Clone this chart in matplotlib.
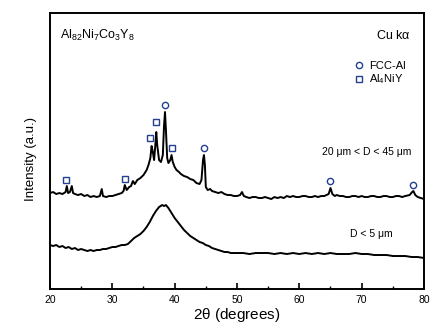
import numpy as np
import matplotlib.pyplot as plt
from matplotlib.lines import Line2D

plt.rcParams['font.family'] = ['Liberation Sans', 'DejaVu Sans']
plt.rcParams['mathtext.fontset'] = 'custom'
plt.rcParams['mathtext.rm'] = 'Liberation Sans'
plt.rcParams['mathtext.it'] = 'Liberation Sans'

# trace for 20 um < D < 45 um powder (2theta, intensity in a.u.)
theta_coarse = [20.0, 20.5, 21.0, 21.5, 22.0, 22.5, 22.7, 22.9, 23.2, 23.5, 23.7, 24.0, 24.5,
                25.0, 25.5, 26.0, 26.5, 27.0, 27.5, 28.0, 28.3, 28.5, 29.0, 29.5, 30.0,
                30.5, 31.0, 31.5, 31.8, 32.0, 32.3, 32.7, 33.0, 33.3, 33.6, 34.0, 34.5,
                35.0, 35.5, 35.8, 36.1, 36.3, 36.5, 36.7, 36.9, 37.05, 37.2, 37.5, 37.8,
                38.1, 38.3, 38.45, 38.6, 38.8, 39.0, 39.3, 39.5, 39.7, 40.0, 40.3, 40.7,
                41.0, 41.5, 42.0, 42.5, 43.0, 43.5, 44.0, 44.3, 44.55, 44.7, 44.85, 45.0,
                45.3, 45.7, 46.0, 46.5, 47.0, 47.5, 48.0, 48.5, 49.0, 49.5, 50.0, 50.5,
                50.8, 51.1, 51.5, 52.0, 52.5, 53.0, 53.5, 54.0, 54.5, 55.0, 55.5, 56.0,
                56.5, 57.0, 57.5, 58.0, 58.5, 59.0, 59.5, 60.0, 60.5, 61.0, 61.5, 62.0,
                62.5, 63.0, 63.5, 64.0, 64.7, 65.0, 65.3, 65.7, 66.0, 66.5, 67.0, 67.5,
                68.0, 68.5, 69.0, 69.5, 70.0, 70.5, 71.0, 71.5, 72.0, 72.5, 73.0, 73.5,
                74.0, 74.5, 75.0, 75.5, 76.0, 76.5, 77.0, 77.7, 78.1, 78.3, 78.6, 79.0,
                79.5, 80.0]
int_coarse = [96, 97, 95, 96, 95, 97, 103, 96, 97, 103, 96, 95, 94,
              95, 93, 94, 92, 93, 92, 93, 100, 93, 92, 93, 93,
              94, 95, 96, 98, 104, 99, 102, 103, 108, 105, 109, 111,
              114, 119, 124, 131, 143, 137, 129, 144, 157, 144, 129, 127,
              134, 164, 177, 159, 131, 126, 129, 134, 127, 122, 119, 117,
              115, 113, 112, 110, 109, 106, 105, 109, 129, 134, 124, 102,
              99, 100, 98, 97, 96, 97, 95, 94, 94, 93, 93, 94,
              97, 93, 92, 91, 92, 92, 91, 91, 92, 91, 90, 92,
              91, 92, 91, 93, 92, 93, 92, 92, 93, 93, 92, 92,
              93, 92, 93, 93, 95, 101, 95, 93, 94, 93, 93, 92,
              92, 93, 93, 92, 93, 92, 92, 93, 93, 92, 92, 93,
              93, 92, 92, 93, 93, 92, 93, 94, 97, 98, 94, 92,
              91, 90]

# trace for D < 5 um powder
theta_fine = [20.0, 20.5, 21.0, 21.5, 22.0, 22.5, 23.0, 23.5, 24.0, 24.5, 25.0, 25.5,
              26.0, 26.5, 27.0, 27.5, 28.0, 28.5, 29.0, 29.5, 30.0, 30.5, 31.0, 31.5,
              32.0, 32.5, 33.0, 33.5, 34.0, 34.5, 35.0, 35.5, 36.0, 36.5, 37.0, 37.5,
              38.0, 38.3, 38.6, 39.0, 39.5, 40.0, 40.5, 41.0, 41.5, 42.0, 42.5, 43.0,
              43.5, 44.0, 44.5, 45.0, 45.5, 46.0, 46.5, 47.0, 47.5, 48.0, 48.5, 49.0,
              49.5, 50.0, 51.0, 52.0, 53.0, 54.0, 55.0, 56.0, 57.0, 58.0, 59.0, 60.0,
              61.0, 62.0, 63.0, 64.0, 65.0, 66.0, 67.0, 68.0, 69.0, 70.0, 71.0, 72.0,
              73.0, 74.0, 75.0, 76.0, 77.0, 78.0, 79.0, 80.0]
int_fine = [44, 43, 44, 42, 43, 41, 42, 40, 41, 39, 40, 39,
            38, 39, 38, 39, 39, 40, 40, 41, 42, 42, 43, 44,
            44, 45, 48, 51, 53, 55, 58, 62, 67, 73, 78, 82,
            84, 83, 84, 81, 76, 71, 67, 63, 59, 56, 53, 51,
            49, 47, 46, 44, 43, 41, 40, 39, 38, 37, 37, 36,
            36, 36, 36, 35, 36, 36, 36, 35, 36, 35, 36, 35,
            36, 35, 36, 35, 36, 35, 35, 35, 36, 35, 35, 34,
            34, 34, 33, 33, 33, 32, 32, 31]

# phase markers
fcc_theta = [38.45, 44.65, 65.0, 78.25]
fcc_int = [184, 141, 108, 104]
al4niy_theta = [22.55, 32.1, 36.0, 36.95, 39.6]
al4niy_int = [109, 110, 151, 167, 141]

mark_color = '#23408e'

fig, ax = plt.subplots(figsize=(4.48, 3.35), dpi=100)
fig.subplots_adjust(left=0.1116, right=0.9464, top=0.961, bottom=0.1373)

ax.plot(theta_coarse, int_coarse, color='black', lw=1.4)
ax.plot(theta_fine, int_fine, color='black', lw=1.4)
ax.plot(fcc_theta, fcc_int, 'o', ms=4.5, mfc='none', mec=mark_color, mew=1.0)
ax.plot(al4niy_theta, al4niy_int, 's', ms=4.3, mfc='none', mec=mark_color, mew=1.0)

ax.set_xlim(20, 80)
ax.set_ylim(0, 276)
ax.set_xticks(np.arange(20, 81, 10))
ax.set_xticks(np.arange(25, 80, 10), minor=True)
ax.set_yticks([])
ax.tick_params(axis='x', direction='in', length=4, width=1.2, labelsize=7.5, pad=4)
ax.tick_params(axis='x', which='minor', direction='in', length=2.5, width=1.0)
for s in ax.spines.values():
    s.set_linewidth(1.4)

ax.set_xlabel(r'2$\theta$ (degrees)', fontsize=11, labelpad=1)
ax.set_ylabel('Intensity (a.u.)', fontsize=9.5)
ax.yaxis.set_label_coords(-0.035, 0.47)

ax.text(0.028, 0.905, r'Al$_{82}$Ni$_7$Co$_3$Y$_8$', transform=ax.transAxes, fontsize=9)
ax.text(0.965, 0.905, r'Cu k$\alpha$', transform=ax.transAxes, fontsize=9, ha='right')
ax.text(0.965, 0.485, '20 μm < D < 45 μm', transform=ax.transAxes, fontsize=7.5, ha='right')
ax.text(0.915, 0.19, 'D < 5 μm', transform=ax.transAxes, fontsize=7.5, ha='right')

handles = [Line2D([], [], ls='none', marker='o', ms=4.5, mfc='none', mec=mark_color, mew=1.0),
           Line2D([], [], ls='none', marker='s', ms=4.3, mfc='none', mec=mark_color, mew=1.0)]
ax.legend(handles, ['FCC-Al', r'Al$_4$NiY'], loc='upper left', bbox_to_anchor=(0.79, 0.855),
          frameon=False, fontsize=8, handlelength=1.0, handletextpad=0.4,
          labelspacing=0.15, borderpad=0.2)

fig.savefig('out.png', dpi=100)
